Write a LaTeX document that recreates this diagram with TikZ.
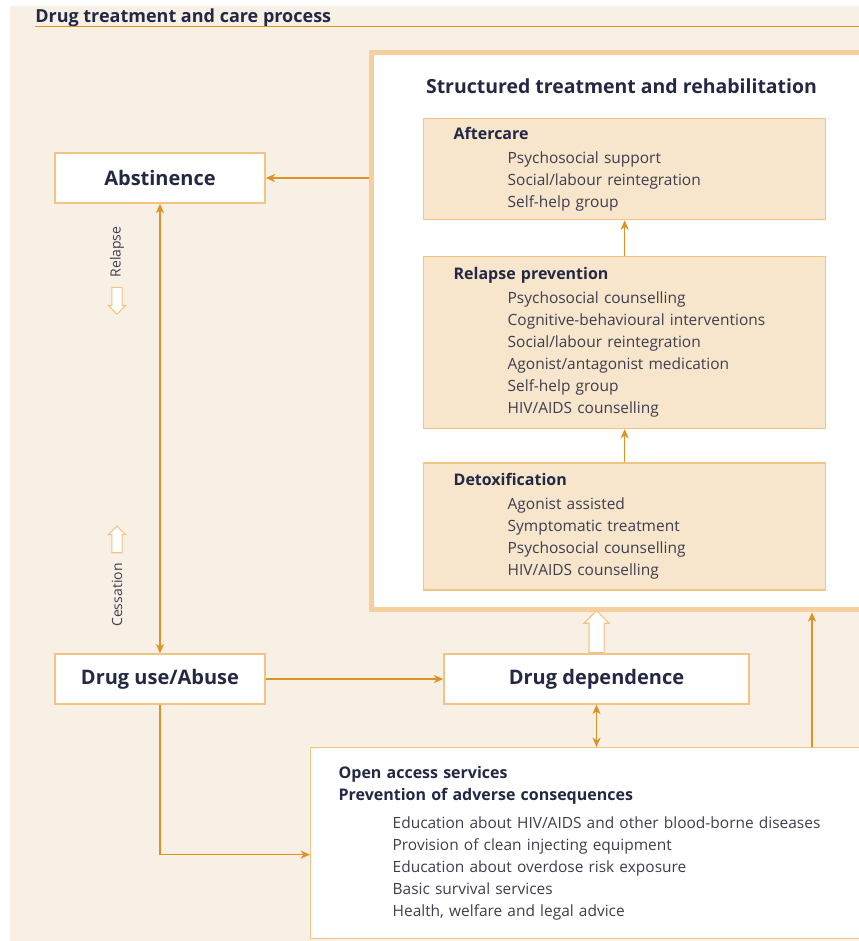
\documentclass[tikz,border=0pt]{standalone}
\usepackage{fontspec}
\setmainfont{Open Sans}
\usepackage{tikz}
\usetikzlibrary{positioning,shapes.arrows,arrows.meta}

\definecolor{pagebg}{RGB}{249,240,229}
\definecolor{stagefill}{RGB}{247,229,204}
\definecolor{boxline}{RGB}{242,196,132}
\definecolor{framecol}{RGB}{245,208,158}
\definecolor{flowline}{RGB}{222,146,38}
\definecolor{navy}{RGB}{35,40,68}
\definecolor{itemgray}{RGB}{62,62,78}

\newcommand{\careline}[1]{\hspace*{40.5pt}#1}
\newcommand{\stagehead}[1]{{\fontsize{12}{16.5}\selectfont\bfseries\color{navy}#1}}

\begin{document}
\begin{tikzpicture}[x=0.75pt,y=-0.75pt]
    \tikzstyle{mainbox}=[draw=boxline, line width=1.1pt, fill=white, text=navy, font=\fontsize{15}{18}\selectfont\bfseries, minimum height=37.5pt, inner sep=0];
    \tikzstyle{stagebox}=[draw=boxline, line width=1pt, fill=stagefill, text=itemgray, align=left, font=\fontsize{11.6}{16.5}\selectfont, minimum width=301.5pt, text width=256.5pt, inner xsep=22.5pt];
    \tikzstyle{flow}=[draw=flowline, line width=1.2pt, -{Stealth[length=7pt,width=6pt,inset=2pt]}];
    \tikzstyle{twoway}=[flow, {Stealth[length=7pt,width=6pt,inset=2pt]}-{Stealth[length=7pt,width=6pt,inset=2pt]}];
    \tikzstyle{hollow}=[single arrow, draw=boxline, line width=0.8pt, fill=white, single arrow head extend=2.6pt, inner sep=3.4pt, minimum height=20pt];
    \tikzstyle{sidenote}=[text=itemgray, font=\fontsize{10.5}{12}\selectfont, rotate=90];

    \useasboundingbox (0,0) rectangle (859,941);
    \clip (0,0) rectangle (859,941);
    \fill[pagebg] (10,6) rectangle (859,941);

    \node[anchor=base west, inner sep=0, text=navy, font=\fontsize{13.5}{15}\selectfont\bfseries] at (35,22.5) (title) {Drug treatment and care process};
    \draw[flowline, line width=1pt] (35,26.5) -- (859,26.5);

    \node[draw=framecol, line width=3.75pt, fill=white, anchor=north west, minimum width=525pt, minimum height=418pt] at (369,50) (stb) {};
    \node[text=navy, font=\fontsize{14.6}{17}\selectfont\bfseries] at (621.5,86) (stbtitle) {Structured treatment and rehabilitation};

    \node[stagebox, anchor=north west, minimum height=75.75pt] at (423,118) (aft) {\stagehead{Aftercare}\\[1.5pt]
        \careline{Psychosocial support}\\
        \careline{Social/labour reintegration}\\
        \careline{Self-help group}};
    \node[stagebox, below=26.5pt of aft, minimum height=129pt] (rlp) {\stagehead{Relapse prevention}\\[2pt]
        \careline{Psychosocial counselling}\\
        \careline{Cognitive-behavioural interventions}\\
        \careline{Social/labour reintegration}\\
        \careline{Agonist/antagonist medication}\\
        \careline{Self-help group}\\
        \careline{HIV/AIDS counselling}};
    \node[stagebox, below=25pt of rlp, minimum height=95.25pt] (det) {\stagehead{Detoxification}\\[1.5pt]
        \careline{Agonist assisted}\\
        \careline{Symptomatic treatment}\\
        \careline{Psychosocial counselling}\\
        \careline{HIV/AIDS counselling}};

    \node[mainbox, minimum width=157.5pt] at (160,178) (abs) {Abstinence};
    \node[mainbox, minimum width=157.5pt] at (160,679) (use) {Drug use/Abuse};
    \node[mainbox, minimum width=228.75pt] at (596.5,679) (dep) {Drug dependence};

    \node[stagebox, fill=white, anchor=north west, minimum width=450pt, text width=408pt, inner xsep=21pt, minimum height=143.25pt] at (310,747) (oas) {\stagehead{Open access services}\\
        \stagehead{Prevention of adverse consequences}\\[4pt]
        \careline{Education about HIV/AIDS and other blood-borne diseases}\\
        \careline{Provision of clean injecting equipment}\\
        \careline{Education about overdose risk exposure}\\
        \careline{Basic survival services}\\
        \careline{Health, welfare and legal advice}};

    \node[sidenote] at (117,252) (relapse) {Relapse};
    \node[hollow, rotate=-90, anchor=tail] at ([yshift=-3.5pt]relapse.west) (relarr) {};
    \node[sidenote] at (117,595) (cessation) {Cessation};
    \node[hollow, rotate=90, anchor=tail] at ([yshift=4pt]cessation.east) (cesarr) {};
    \node[hollow, rotate=90, anchor=tail, single arrow head extend=3.75pt, inner sep=5.25pt, minimum height=31.5pt] at (dep.north) (lift) {};

    \coordinate (rcol) at (812,700);
    \draw[flow] (stb.west |- abs.east) -- (abs.east);
    \draw[flow] (det.north) -- (rlp.south);
    \draw[flow] (rlp.north) -- (aft.south);
    \draw[twoway] (abs.south) -- (use.north);
    \draw[flow] (use.east) -- (dep.west);
    \draw[twoway] (dep.south) -- (dep.south |- oas.north);
    \draw[flow] (use.south) |- ([yshift=-8.6pt]oas.west);
    \draw[flow] (rcol |- oas.north) -- (rcol |- stb.south);
\end{tikzpicture}
\end{document}
